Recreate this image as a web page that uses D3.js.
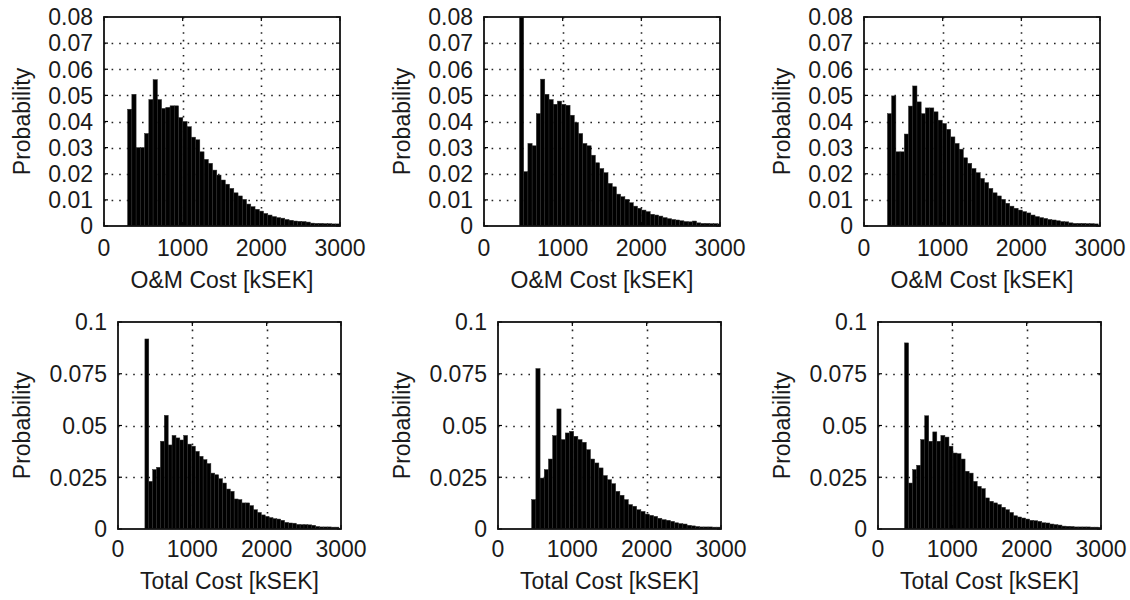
<!DOCTYPE html>
<html>
<head>
<meta charset="utf-8">
<script src="https://cdn.jsdelivr.net/npm/d3@7"></script>
<style>
  html, body { margin: 0; padding: 0; background: #fff; }
  svg { display: block; }
  text { font-family: "Liberation Sans", Arial, sans-serif; fill: #1a1a1a; }
</style>
</head>
<body>
<svg id="chart" width="1130" height="600"></svg>
<script>
// ---------- data ----------
const xTickValues = [0, 1000, 2000, 3000];
const xTickLabels = ["0", "1000", "2000", "3000"];
const yTicksOM = [0, 0.01, 0.02, 0.03, 0.04, 0.05, 0.06, 0.07, 0.08];
const yTickLabelsOM = ["0", "0.01", "0.02", "0.03", "0.04", "0.05", "0.06", "0.07", "0.08"];
const yTicksTotal = [0, 0.025, 0.05, 0.075, 0.1];
const yTickLabelsTotal = ["0", "0.025", "0.05", "0.075", "0.1"];
const xLabelOM = "O&M Cost [kSEK]";
const xLabelTotal = "Total Cost [kSEK]";
const yLabel = "Probability";

// histogram bin start (kSEK) and bin width (kSEK) for each panel
const omBinStart = [300, 451, 298];
const omBinWidth = [54, 53.6, 53.6];
const totalBinStart = [362, 453, 357];
const totalBinWidth = [52.2, 56.5, 54.3];

// probabilities per bin
const omCase1 = [0.0447, 0.0504, 0.030, 0.030, 0.0354, 0.0484, 0.056, 0.0484, 0.045, 0.0454,
  0.046, 0.046, 0.0415, 0.040, 0.038, 0.034, 0.033, 0.0284, 0.0255, 0.024,
  0.0214, 0.0195, 0.0176, 0.016, 0.0144, 0.0127, 0.0115, 0.0102, 0.0084, 0.0074,
  0.0064, 0.0057, 0.0048, 0.0042, 0.0036, 0.0032, 0.003, 0.0025, 0.0022, 0.0019,
  0.0018, 0.0017, 0.0015, 0.0011, 0.001, 0.001, 0.0009, 0.0009, 0.0008, 0.0008];
const omCase2 = [0.095, 0.0208, 0.0316, 0.0307, 0.043, 0.0562, 0.0504, 0.0484, 0.0466, 0.0478,
  0.0466, 0.0462, 0.0424, 0.0396, 0.0354, 0.0316, 0.0307, 0.0271, 0.0242, 0.022,
  0.0204, 0.0163, 0.015, 0.0122, 0.0112, 0.0102, 0.0089, 0.0076, 0.0068, 0.0061,
  0.0055, 0.0045, 0.0042, 0.0038, 0.0032, 0.0028, 0.0025, 0.0023, 0.002, 0.0017,
  0.0016, 0.0019, 0.0012, 0.001, 0.001, 0.0009, 0.0009, 0.0008];
const omCase3 = [0.043, 0.0498, 0.0284, 0.0284, 0.0352, 0.0459, 0.0536, 0.0475, 0.043, 0.0452,
  0.0452, 0.0437, 0.0405, 0.0392, 0.037, 0.0341, 0.0316, 0.0294, 0.0261, 0.024,
  0.022, 0.0204, 0.0182, 0.0166, 0.0144, 0.0127, 0.0115, 0.0102, 0.0087, 0.0076,
  0.0068, 0.0061, 0.0055, 0.005, 0.0042, 0.0036, 0.0032, 0.0029, 0.0025, 0.0023,
  0.002, 0.0017, 0.0016, 0.0012, 0.001, 0.001, 0.001, 0.0009, 0.0009, 0.0008];
const totalCase1 = [0.0918, 0.023, 0.0287, 0.0298, 0.0424, 0.0549, 0.0406, 0.0452, 0.044, 0.043,
  0.0452, 0.041, 0.040, 0.0375, 0.0351, 0.0335, 0.0316, 0.027, 0.0262, 0.0243,
  0.0222, 0.0193, 0.0182, 0.0145, 0.0142, 0.0126, 0.0126, 0.0113, 0.0093, 0.008,
  0.0068, 0.0061, 0.0055, 0.005, 0.0048, 0.0042, 0.0032, 0.0029, 0.0028, 0.0022,
  0.0021, 0.0021, 0.002, 0.0018, 0.0012, 0.001, 0.001, 0.001, 0.0009, 0.0009];
const totalCase2 = [0.0142, 0.0775, 0.0246, 0.0287, 0.0338, 0.0451, 0.058, 0.0432, 0.0464, 0.0472,
  0.0448, 0.0432, 0.0419, 0.0383, 0.0338, 0.0319, 0.0295, 0.0258, 0.0238, 0.0219,
  0.0182, 0.0163, 0.0142, 0.0118, 0.011, 0.0093, 0.0085, 0.0072, 0.0066, 0.0061,
  0.0052, 0.0045, 0.0042, 0.0037, 0.003, 0.0026, 0.0024, 0.0018, 0.0015, 0.0012,
  0.001, 0.001, 0.001, 0.0009, 0.0009];
const totalCase3 = [0.0899, 0.0222, 0.0287, 0.0308, 0.0432, 0.0547, 0.0424, 0.0469, 0.0424, 0.0452,
  0.0444, 0.040, 0.0367, 0.0364, 0.0338, 0.0279, 0.027, 0.023, 0.0206, 0.0195,
  0.015, 0.0134, 0.0126, 0.0118, 0.0105, 0.0093, 0.008, 0.0064, 0.0058, 0.0053,
  0.0048, 0.0042, 0.004, 0.0037, 0.003, 0.0029, 0.0024, 0.0021, 0.0019, 0.0014,
  0.0013, 0.0012, 0.001, 0.001, 0.001, 0.001, 0.0009, 0.0009, 0.0008];

// ---------- layout ----------
const svg = d3.select("#chart");
const FONT = 23;

const panels = [
  {values: omCase1, start: omBinStart[0], width: omBinWidth[0], row: 0, col: 0},
  {values: omCase2, start: omBinStart[1], width: omBinWidth[1], row: 0, col: 1},
  {values: omCase3, start: omBinStart[2], width: omBinWidth[2], row: 0, col: 2},
  {values: totalCase1, start: totalBinStart[0], width: totalBinWidth[0], row: 1, col: 0},
  {values: totalCase2, start: totalBinStart[1], width: totalBinWidth[1], row: 1, col: 1},
  {values: totalCase3, start: totalBinStart[2], width: totalBinWidth[2], row: 1, col: 2}
];

const rowLayout = [
  {top: 17, bottom: 226, lefts: [104, 484, 864], w: 236, tickOff: 30, labOff: 62,
   yTicks: yTicksOM, yLabels: yTickLabelsOM, yMax: 0.08, xLabel: xLabelOM},
  {top: 322, bottom: 529, lefts: [118, 498, 878], w: 223, tickOff: 28, labOff: 60,
   yTicks: yTicksTotal, yLabels: yTickLabelsTotal, yMax: 0.1, xLabel: xLabelTotal}
];
const yLabelX = [22, 402, 782];

panels.forEach((p, idx) => {
  const L = rowLayout[p.row];
  const left = L.lefts[p.col], right = left + L.w;
  const x = d3.scaleLinear().domain([0, 3000]).range([left, right]);
  const y = d3.scaleLinear().domain([0, L.yMax]).range([L.bottom, L.top]);
  const g = svg.append("g");

  g.append("rect").attr("x", left).attr("y", L.top)
    .attr("width", right - left).attr("height", L.bottom - L.top).attr("fill", "#fff");

  // grid
  const grid = g.append("g").attr("stroke", "#222").attr("stroke-width", 1.6)
    .attr("stroke-dasharray", "1.6 6");
  grid.selectAll("line.gx").data(xTickValues.slice(1, -1)).join("line")
    .attr("x1", d => Math.round(x(d)) + 0.5).attr("x2", d => Math.round(x(d)) + 0.5)
    .attr("y1", L.top).attr("y2", L.bottom);
  grid.selectAll("line.gy").data(L.yTicks.slice(1, -1)).join("line")
    .attr("y1", d => Math.round(y(d)) + 0.5).attr("y2", d => Math.round(y(d)) + 0.5)
    .attr("x1", left).attr("x2", right);

  const cid = "clip" + idx;
  svg.append("clipPath").attr("id", cid).append("rect")
    .attr("x", left).attr("y", L.top).attr("width", right - left).attr("height", L.bottom - L.top);

  // bars
  g.append("g").attr("clip-path", `url(#${cid})`)
    .selectAll("rect").data(p.values).join("rect")
    .attr("x", (d, i) => x(p.start + i * p.width))
    .attr("width", (d, i) => x(p.start + (i + 1) * p.width) - x(p.start + i * p.width))
    .attr("y", d => y(d))
    .attr("height", d => y(0) - y(d))
    .attr("fill", "#000")
    .attr("stroke", "#2b2b2b")
    .attr("stroke-width", 0.5);

  // ticks inward on all sides
  const tk = g.append("g").attr("stroke", "#000").attr("stroke-width", 1.2);
  xTickValues.forEach(v => {
    const xx = x(v);
    tk.append("line").attr("x1", xx).attr("x2", xx).attr("y1", L.bottom).attr("y2", L.bottom - 4);
    tk.append("line").attr("x1", xx).attr("x2", xx).attr("y1", L.top).attr("y2", L.top + 4);
  });
  L.yTicks.forEach(v => {
    const yy = y(v);
    tk.append("line").attr("x1", left).attr("x2", left + 4).attr("y1", yy).attr("y2", yy);
    tk.append("line").attr("x1", right).attr("x2", right - 4).attr("y1", yy).attr("y2", yy);
  });

  // frame
  g.append("rect").attr("x", left).attr("y", L.top)
    .attr("width", right - left).attr("height", L.bottom - L.top)
    .attr("fill", "none").attr("stroke", "#111").attr("stroke-width", 1.8);

  // x tick labels
  g.append("g").selectAll("text").data(xTickValues).join("text")
    .attr("x", d => x(d)).attr("y", L.bottom + L.tickOff)
    .attr("text-anchor", "middle").attr("font-size", FONT)
    .text((d, i) => xTickLabels[i]);

  // y tick labels
  g.append("g").selectAll("text").data(L.yTicks).join("text")
    .attr("x", left - 11).attr("y", d => y(d))
    .attr("dy", "0.36em")
    .attr("text-anchor", "end").attr("font-size", FONT)
    .text((d, i) => L.yLabels[i]);

  // x axis label
  g.append("text").attr("x", (left + right) / 2).attr("y", L.bottom + L.labOff)
    .attr("text-anchor", "middle").attr("font-size", FONT).text(L.xLabel);

  // y axis label
  const cy = (L.top + L.bottom) / 2;
  g.append("text")
    .attr("transform", `translate(${yLabelX[p.col] + 8},${cy}) rotate(-90)`)
    .attr("text-anchor", "middle").attr("font-size", FONT).text(yLabel);
});
</script>
</body>
</html>
